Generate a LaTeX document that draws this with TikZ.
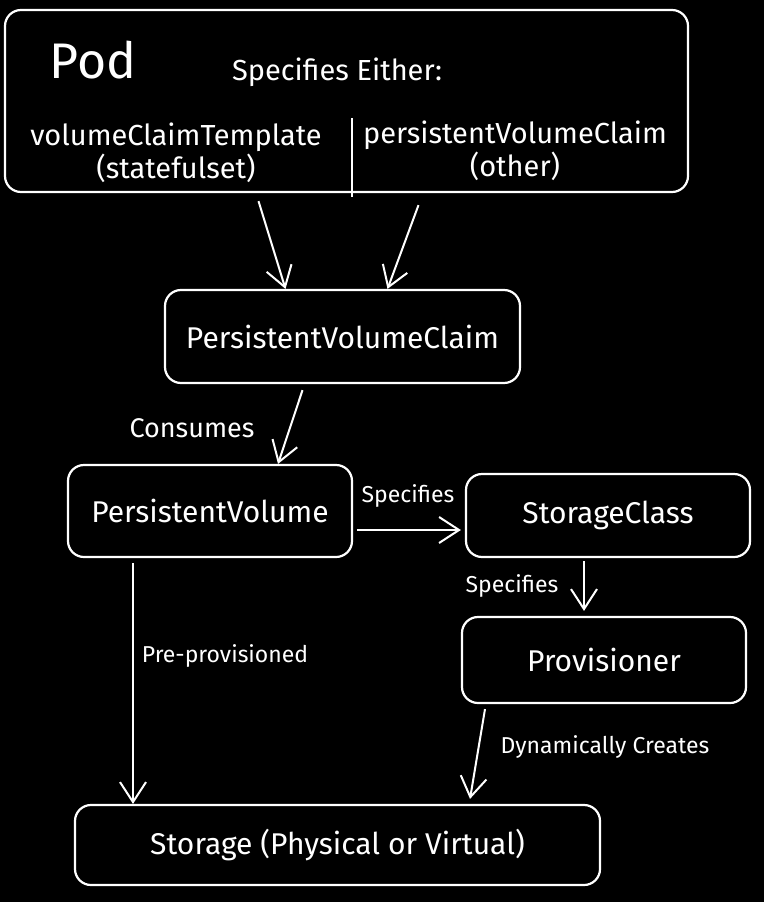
\documentclass[tikz,border=0pt]{standalone}
\usepackage{fontspec}
\setmainfont{Fira Sans}
\usetikzlibrary{arrows.meta,calc}
\tikzset{
	box/.style={draw=white,line width=2.2pt,rounded corners=16pt,text=white,inner sep=0pt,font=\fontsize{30}{34}\selectfont},
	flow/.style={draw=white,line width=2pt,-{Straight Barb[length=20pt,width=26pt,line width=2pt]}},
	lbl/.style={text=white,font=\fontsize{23}{26}\selectfont},
	inpod/.style={text=white,align=center,font=\fontsize{29}{33}\selectfont}
}

\begin{document}
\begin{tikzpicture}[x=1pt,y=-1pt]
	\fill[black](0,0) rectangle (764,902);
	\node[box,minimum width=683pt,minimum height=182pt] (pod) at (346.5,101) {};
	\node[inpod,font=\fontsize{50}{54}\selectfont] (podname) at (93,60) {Pod};
	\node[inpod] (either) at (337,72) {Specifies Either:};
	\node[inpod] (vct) at (176,153) {volumeClaimTemplate\\(statefulset)};
	\node[inpod] (pvcl) at (515,151) {persistentVolumeClaim\\(other)};
	\draw[white,line width=2pt]($(pod.south)+(5.5,4)$)--++(0,-79);
	\node[box,minimum width=355pt,minimum height=93pt] (pvc) at (342.5,336.5) {PersistentVolumeClaim};
	\node[box,minimum width=284pt,minimum height=92pt] (pv) at (210,511) {PersistentVolume};
	\node[box,minimum width=284pt,minimum height=83pt] (sc) at (608,515.5) {StorageClass};
	\node[box,minimum width=284pt,minimum height=86pt] (prov) at (604,660) {Provisioner};
	\node[box,minimum width=525pt,minimum height=80pt] (store) at (337.5,845) {Storage (Physical or Virtual)};
	\draw[flow]([xshift=-88pt,yshift=-8pt]pod.south)--([xshift=-57pt]pvc.north);
	\draw[flow]([xshift=72pt,yshift=-12pt]pod.south)--([xshift=45pt]pvc.north);
	\draw[flow]([xshift=-40pt,yshift=-6pt]pvc.south)--([xshift=68pt]pv.north);
	\node[lbl,font=\fontsize{27}{30}\selectfont] (consumes) at (192,428) {Consumes};
	\draw[flow,shorten >=4pt]([xshift=4pt,yshift=-19pt]pv.east)--([yshift=-14.5pt]sc.west);
	\node[lbl] (spec1) at (408,496) {Specifies};
	\draw[flow]([xshift=-24pt,yshift=-3pt]sc.south)--([xshift=-20pt,yshift=5pt]prov.north);
	\node[lbl] (spec2) at (512,586) {Specifies};
	\draw[flow]([xshift=-119pt,yshift=-5pt]prov.south)--([xshift=132.5pt,yshift=5pt]store.north);
	\node[lbl] (dyn) at (605,747) {Dynamically Creates};
	\draw[flow]([xshift=-77pt,yshift=-5pt]pv.south)--([xshift=-204.5pt]store.north);
	\node[lbl] (prepro) at (225,656) {Pre-provisioned};
\end{tikzpicture}
\end{document}
